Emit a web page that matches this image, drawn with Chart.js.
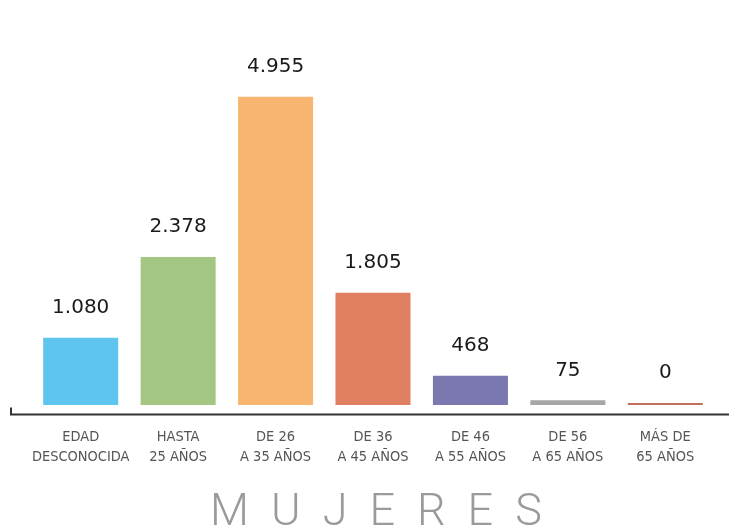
<!DOCTYPE html>
<html>
<head>
<meta charset="utf-8">
<script src="https://cdn.jsdelivr.net/npm/chart.js@4.4.1/dist/chart.umd.min.js"></script>
<style>
  html, body { margin: 0; padding: 0; background: #ffffff; }
  #wrap { width: 729px; height: 528px; }
</style>
</head>
<body>
<div id="wrap"><canvas id="c" width="729" height="528"></canvas></div>
<script>
const categories = [
  ['EDAD', 'DESCONOCIDA'],
  ['HASTA', '25 AÑOS'],
  ['DE 26', 'A 35 AÑOS'],
  ['DE 36', 'A 45 AÑOS'],
  ['DE 46', 'A 55 AÑOS'],
  ['DE 56', 'A 65 AÑOS'],
  ['MÁS DE', '65 AÑOS']
];
const values = [1080, 2378, 4955, 1805, 468, 75, 0];
const barColors = ['#5EC5EE', '#A3C782', '#F7B56F', '#E07F62', '#7A78AE', '#A6A6A6', '#C0705A'];
const titleText = 'MUJERES';

function fmt(v) {
  return String(v).replace(/\B(?=(\d{3})+(?!\d))/g, '.');
}

const valueLabels = {
  id: 'valueLabels',
  afterDatasetsDraw(chart) {
    const ctx = chart.ctx;
    const meta = chart.getDatasetMeta(0);
    ctx.save();
    ctx.font = '20px "DejaVu Sans", sans-serif';
    ctx.fillStyle = '#1a1a1a';
    ctx.textAlign = 'center';
    ctx.textBaseline = 'middle';
    meta.data.forEach((bar, i) => {
      const top = Math.min(bar.y, bar.base - 2);
      ctx.fillText(fmt(values[i]), bar.x, top - 30);
    });
    ctx.restore();
  }
};

const axisLine = {
  id: 'axisLine',
  afterDraw(chart) {
    const ctx = chart.ctx;
    const y = chart.scales.y.getPixelForValue(0) + 9.5;
    ctx.save();
    ctx.strokeStyle = '#333333';
    ctx.lineWidth = 2;
    ctx.beginPath();
    ctx.moveTo(11, y - 7);
    ctx.lineTo(11, y);
    ctx.lineTo(729, y);
    ctx.stroke();
    ctx.restore();
  }
};

const spacedTitle = {
  id: 'spacedTitle',
  afterDraw(chart) {
    const ctx = chart.ctx;
    ctx.save();
    ctx.font = '300 45px Roboto, sans-serif';
    ctx.fillStyle = '#9a9a9a';
    ctx.textBaseline = 'alphabetic';
    ctx.textAlign = 'left';
    const ls = 22;
    ctx.letterSpacing = ls + 'px';
    const w = ctx.measureText(titleText).width - ls;
    ctx.fillText(titleText, 376 - w / 2, 525);
    ctx.restore();
  }
};

new Chart(document.getElementById('c'), {
  type: 'bar',
  data: {
    labels: categories,
    datasets: [{
      data: values,
      backgroundColor: barColors,
      borderWidth: 0,
      minBarLength: 2,
      categoryPercentage: 1,
      barPercentage: 0.77
    }]
  },
  options: {
    responsive: false,
    animation: false,
    layout: { padding: { left: 32, right: 15, top: 94, bottom: 39 } },
    plugins: {
      legend: { display: false },
      tooltip: { enabled: false },
      title: { display: false }
    },
    scales: {
      x: {
        grid: { display: false, drawTicks: false },
        border: { display: false },
        ticks: {
          color: '#555555',
          padding: 22,
          font: { family: '"DejaVu Sans Condensed", "Liberation Sans Narrow", sans-serif', size: 14.5, lineHeight: 1.38 },
          maxRotation: 0,
          autoSkip: false
        }
      },
      y: {
        display: false,
        min: 0,
        max: 5000
      }
    }
  },
  plugins: [valueLabels, axisLine, spacedTitle]
});
</script>
</body>
</html>
